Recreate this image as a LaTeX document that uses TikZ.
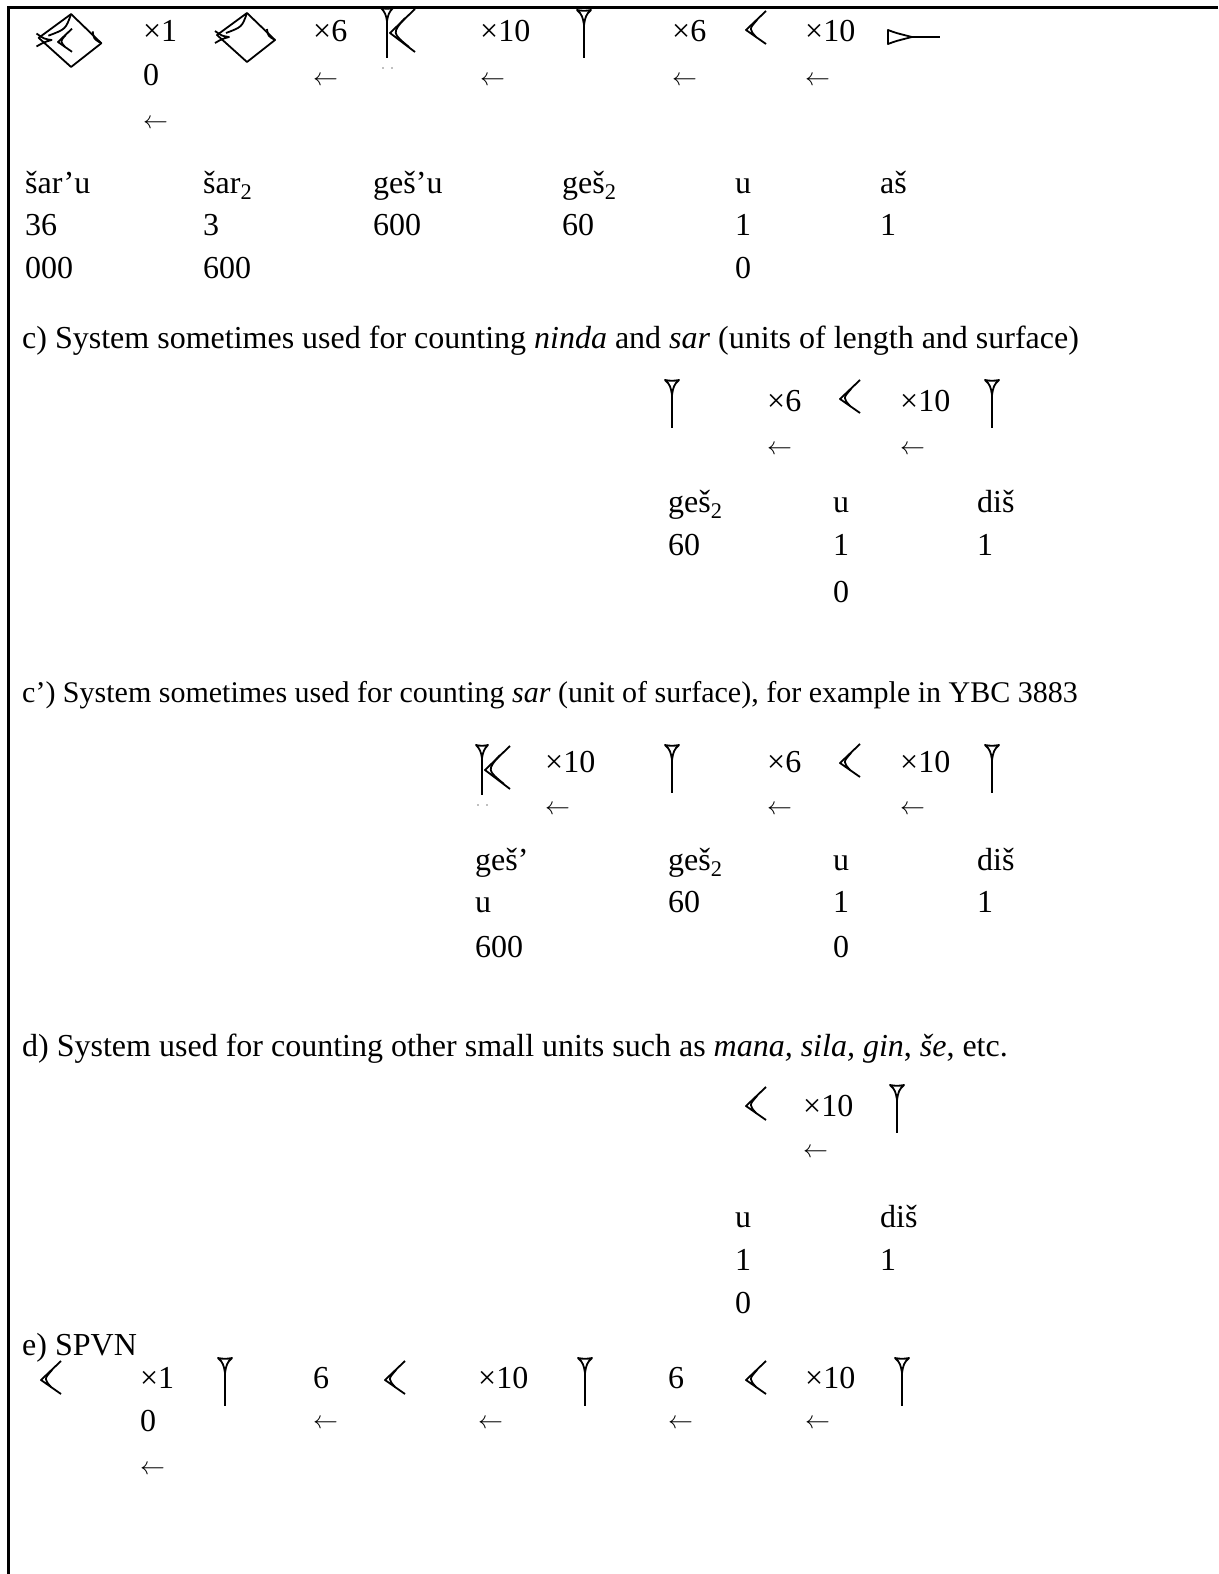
\documentclass[tikz,border=0pt]{standalone}
\usepackage{fontspec}
\setmainfont{Liberation Serif}
\begin{document}
\begin{tikzpicture}[x=1pt, y=-1pt, font=\fontsize{32}{38}\selectfont,
    txt/.style={anchor=base west, inner sep=0pt},
    sign/.style={line width=1.8pt, line join=round},
    dis/.pic={
        \draw[sign] (-7,0) .. controls (-2,1) and (2,1) .. (7,0) .. controls (2,4) and (1,8) .. (0,15) .. controls (-1,8) and (-2,4) .. (-7,0) -- cycle;
        \draw[sign] (0,12) -- (0,48);
    },
    uw/.pic={
        \draw[sign] (20,-19) -- (0,0) -- (20,14);
        \draw[sign] (11,-10) .. controls (3,-1) .. (10,7);
    },
    as/.pic={
        \draw[sign] (0,-7) .. controls (8,-4) .. (24,0) .. controls (8,4) .. (0,7) -- cycle;
        \draw[sign] (20,0) -- (52,0);
    },
    gesu/.pic={
        \draw[sign] (-6,0) .. controls (-2,1) and (2,1) .. (6,0) .. controls (2,4) and (1,7) .. (0,13) .. controls (-1,7) and (-2,4) .. (-6,0) -- cycle;
        \draw[sign] (0,10) -- (0,50);
        \draw[sign] (28,1) -- (3,25) -- (28,44);
        \draw[sign] (18,10) .. controls (5,25) .. (22,39);
        \fill[gray] (-4,60) circle (0.8) (5,60) circle (0.8);
    },
    sar/.pic={
        \draw[sign] (-29,-2) -- (1,-24) -- (29,3) -- (1,25) -- cycle;
        \draw[sign] (1,-24) .. controls (-4,-10) .. (-20,-4);
        \draw[sign] (-31,-6) .. controls (-24,-1) .. (-17,0) .. controls (-24,2) .. (-31,6);
        \draw[sign] (29,3) .. controls (22,-1) .. (21,-8);
    }]
\useasboundingbox (0,0) rectangle (1218,1574);

% Frame, open on the right and at the bottom
\draw[line width=3pt] (8,1574) -- (8,7) -- (1218,7);

% a) the big units: signs, factors and names
\pic[scale=1.08] (saru) at (70,40) {sar};
\pic[scale=0.7] (saru-u) at (58,42) {uw};
\pic (sar) at (246,37) {sar};
\pic (gesu) at (387,8) {gesu};
\pic (dis) at (584,10) {dis};
\pic (u) at (746,30) {uw};
\pic (as) at (888,37) {as};
\foreach \x/\t [count=\i] in {143/{×1}, 313/{×6}, 480/{×10}, 672/{×6}, 805/{×10}}
    \node[txt] (fa\i) at (\x,41) {\t};
\node[txt] (fa1b) at (143,85) {0};
\node[txt] (ra1) at (143,128) {$\leftarrow$};
\foreach \x [count=\i from 2] in {313, 480, 672, 805}
    \node[txt] (ra\i) at (\x,85) {$\leftarrow$};
\foreach \x/\t [count=\i] in {25/{šar’u}, 203/{šar\textsubscript{2}}, 373/{geš’u}, 562/{geš\textsubscript{2}}, 735/u, 880/aš}
    \node[txt] (na\i) at (\x,193) {\t};
\foreach \x/\t [count=\i] in {25/36, 203/3, 373/600, 562/60, 735/1, 880/1}
    \node[txt] (va\i) at (\x,235) {\t};
\node[txt] (va1b) at (25,278) {000};
\node[txt] (va2b) at (203,278) {600};
\node[txt] (va5b) at (735,278) {0};

% c) ninda and sar
\node[txt] (headc) at (22,348) {c) System sometimes used for counting \textit{ninda} and \textit{sar} (units of length and surface)};
\pic (c-dis1) at (672,380) {dis};
\pic (c-u) at (840,399) {uw};
\pic (c-dis2) at (992,380) {dis};
\node[txt] (fc1) at (767,411) {×6};
\node[txt] (fc2) at (900,411) {×10};
\node[txt] (rc1) at (767,454) {$\leftarrow$};
\node[txt] (rc2) at (900,454) {$\leftarrow$};
\foreach \x/\t/\v [count=\i] in {668/{geš\textsubscript{2}}/60, 833/u/1, 977/diš/1} {
    \node[txt] (nc\i) at (\x,512) {\t};
    \node[txt] (vc\i) at (\x,555) {\v};
}
\node[txt] (vc2b) at (833,602) {0};

% c') sar only
\node[txt, font=\fontsize{30}{36}\selectfont] (headc2) at (22,702) {c’) System sometimes used for counting \textit{sar} (unit of surface), for example in YBC 3883};
\pic (d-gesu) at (482,745) {gesu};
\pic (d-dis1) at (672,745) {dis};
\pic (d-u) at (840,763) {uw};
\pic (d-dis2) at (992,745) {dis};
\foreach \x/\t [count=\i] in {545/{×10}, 767/{×6}, 900/{×10}} {
    \node[txt] (fd\i) at (\x,772) {\t};
    \node[txt] (rd\i) at (\x,814) {$\leftarrow$};
}
\foreach \x/\t/\v [count=\i] in {475/geš’/u, 668/{geš\textsubscript{2}}/60, 833/u/1, 977/diš/1} {
    \node[txt] (nd\i) at (\x,870) {\t};
    \node[txt] (vd\i) at (\x,912) {\v};
}
\node[txt] (vd1b) at (475,957) {600};
\node[txt] (vd3b) at (833,957) {0};

% d) other small units
\node[txt] (headd) at (22,1056) {d) System used for counting other small units such as \textit{mana, sila, gin}, \textit{še}, etc.};
\pic (e-u) at (746,1106) {uw};
\pic (e-dis) at (897,1085) {dis};
\node[txt] (fe1) at (803,1116) {×10};
\node[txt] (re1) at (803,1157) {$\leftarrow$};
\node[txt] (ne1) at (735,1227) {u};
\node[txt] (ne2) at (880,1227) {diš};
\node[txt] (ve1) at (735,1270) {1};
\node[txt] (ve2) at (880,1270) {1};
\node[txt] (ve1b) at (735,1313) {0};

% e) SPVN
\node[txt] (heade) at (22,1355) {e) SPVN};
\foreach \x [count=\i] in {41, 385, 746}
    \pic (f-u\i) at (\x,1380) {uw};
\foreach \x [count=\i] in {225, 585, 902}
    \pic (f-dis\i) at (\x,1358) {dis};
\foreach \x/\t [count=\i] in {140/{×1}, 313/6, 478/{×10}, 668/6, 805/{×10}}
    \node[txt] (ff\i) at (\x,1388) {\t};
\node[txt] (ff1b) at (140,1431) {0};
\node[txt] (rf1) at (140,1474) {$\leftarrow$};
\foreach \x [count=\i from 2] in {313, 478, 668, 805}
    \node[txt] (rf\i) at (\x,1428) {$\leftarrow$};
\end{tikzpicture}
\end{document}
